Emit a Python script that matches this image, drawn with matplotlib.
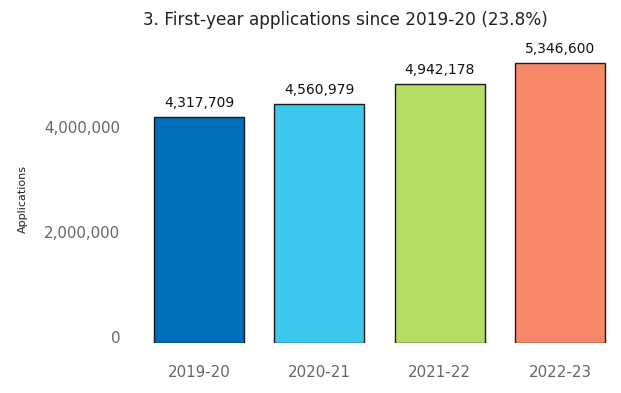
import matplotlib
matplotlib.use("Agg")
import matplotlib.pyplot as plt
from matplotlib.ticker import FuncFormatter

years = ["2019-20", "2020-21", "2021-22", "2022-23"]
applications = [4317709, 4560979, 4942178, 5346600]
colors = ["#006DBB", "#3EC7EC", "#B6DC63", "#F8886A"]
yticks = [0, 2000000, 4000000]
title = "3. First-year applications since 2019-20 (23.8%)"

fig = plt.figure(figsize=(6.21, 3.93), dpi=100)
ax = fig.add_axes([139/621, 50/393, 481/621, 293/393])
x = range(len(years))
bars = ax.bar(x, applications, width=0.75, color=colors, edgecolor="#1a1a1a", linewidth=1.0)
for xi, v in zip(x, applications):
    ax.annotate(f"{v:,}", (xi, v), xytext=(0, 5), textcoords="offset points",
                ha="center", va="bottom", fontsize=10, color="#111111")
ax.set_xlim(-0.5, 3.5)
ax.set_ylim(0, 293/52.4*1e6)
ax.set_xticks(list(x))
ax.set_xticklabels(years)
ax.set_yticks(yticks)
ax.yaxis.set_major_formatter(FuncFormatter(lambda v, p: f"{int(v):,}"))
ax.tick_params(axis="both", length=0, labelsize=10.8, labelcolor="#666666")
ax.tick_params(axis="x", pad=16)
ax.tick_params(axis="y", pad=13.5)
plt.setp(ax.get_yticklabels(), va="baseline")
for s in ax.spines.values():
    s.set_visible(False)
ax.set_ylabel("Applications", fontsize=8, color="#222222")
ax.yaxis.set_label_coords(-0.232, 0.49)
fig.text(345/621, 1 - 20/393, title, ha="center", va="center", fontsize=12.2, color="#222222")
fig.savefig("out.png", dpi=100)
